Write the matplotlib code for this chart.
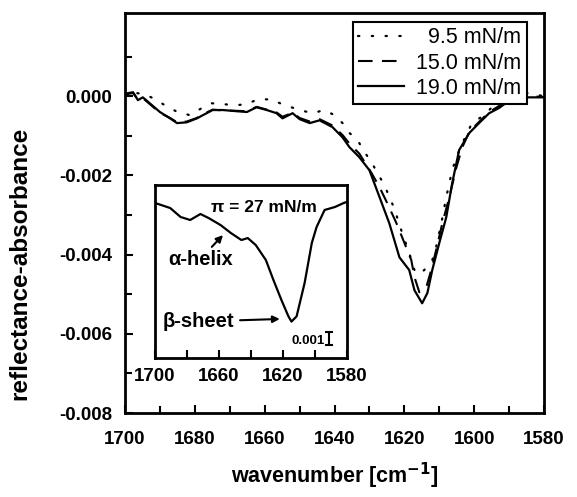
"""
Reflection-absorption IR spectra of the amide I region at three
surface pressures, with an inset spectrum recorded at 27 mN/m.
"""

import matplotlib
matplotlib.use("Agg")
import matplotlib.pyplot as plt
import numpy as np
from matplotlib.ticker import MultipleLocator, FixedLocator

# ---- data (absorbance values in units of 1e-3) ----
wn_solid = [1700, 1699.5, 1697.7, 1696.3, 1694.9, 1692.9, 1690, 1687.1, 1685.1,
            1682.3, 1679.4, 1677.7, 1674.9, 1672, 1668, 1665.1, 1662.3, 1659.4,
            1656.6, 1654.9, 1652, 1650, 1647.1, 1644.3, 1640.6, 1637.7, 1635.7,
            1632.9, 1630, 1627.1, 1624.3, 1621.4, 1618.6, 1617.1, 1614.9, 1613.4,
            1612, 1610, 1608, 1606.3, 1604.3, 1601.4, 1598.6, 1595.7, 1592.9,
            1589, 1585, 1580]
abs_19 = [0.0, 0.07, 0.10, -0.10, -0.03, -0.18, -0.40, -0.56, -0.68, -0.66,
          -0.56, -0.48, -0.35, -0.35, -0.38, -0.40, -0.28, -0.35, -0.43, -0.56,
          -0.43, -0.58, -0.68, -0.61, -0.78, -1.04, -1.29, -1.54, -1.87, -2.55,
          -3.21, -4.07, -4.39, -4.90, -5.23, -4.97, -4.39, -3.71, -3.06, -2.20,
          -1.36, -0.93, -0.68, -0.43, -0.30, -0.05, -0.03, -0.03]

wn_dash = [1700, 1699.5, 1697.7, 1696.3, 1694.9, 1692.9, 1690, 1687.1, 1685.1,
           1682.3, 1679.4, 1677.7, 1674.9, 1672, 1668, 1665.1, 1662.3, 1659.4,
           1656.6, 1654.9, 1652, 1650, 1647.1, 1644.3, 1640.6, 1637.7, 1635.7,
           1632.9, 1629.4, 1627.1, 1624.9, 1622.3, 1620, 1618, 1617.1, 1615.7,
           1613.7, 1612.3, 1610.9, 1609.1, 1607.1, 1605.1, 1603.4, 1601.4,
           1598.6, 1595.7, 1592.9, 1589, 1585, 1580]
abs_15 = [0.0, 0.05, 0.08, -0.08, -0.05, -0.20, -0.42, -0.55, -0.66, -0.64,
          -0.55, -0.46, -0.34, -0.36, -0.37, -0.38, -0.27, -0.34, -0.41, -0.52,
          -0.42, -0.55, -0.64, -0.58, -0.74, -0.98, -1.20, -1.45, -1.94, -2.30,
          -2.70, -3.20, -3.70, -4.14, -4.57, -4.95, -4.82, -4.39, -3.89, -3.20,
          -2.55, -1.80, -1.29, -0.90, -0.65, -0.40, -0.25, -0.03, 0.0, -0.02]

wn_dot = [1700, 1698.6, 1694.3, 1690.9, 1687.7, 1684.9, 1681.4, 1678, 1675.1,
          1672, 1668.3, 1665.1, 1662, 1658, 1655.1, 1650, 1646.3, 1642.9, 1640,
          1637.7, 1635.7, 1633.4, 1631.4, 1629.4, 1627.7, 1625.7, 1622.9, 1620.6,
          1618.6, 1617.1, 1615.7, 1614.3, 1612, 1610.9, 1609.4, 1608, 1606.3,
          1605.1, 1602.3, 1600.6, 1598, 1595.1, 1592.9, 1589, 1585, 1580]
abs_9_5 = [0.0, 0.10, 0.05, -0.10, -0.28, -0.40, -0.48, -0.30, -0.18, -0.20,
           -0.23, -0.20, -0.08, -0.08, -0.20, -0.35, -0.43, -0.35, -0.48, -0.68,
           -0.93, -1.11, -1.41, -1.67, -1.94, -2.25, -2.83, -3.46, -3.96, -4.39,
           -4.50, -4.39, -4.14, -3.81, -3.21, -2.55, -1.87, -1.54, -0.98, -0.68,
           -0.53, -0.30, -0.10, 0.0, 0.08, 0.0]

wn_inset = [1700, 1690.5, 1684, 1678, 1671.6, 1666.5, 1659, 1652.6, 1646, 1642,
            1637, 1630.7, 1626, 1621, 1616.6, 1614.7, 1611.5, 1606.5, 1602,
            1599, 1594, 1587.5, 1582, 1580]
abs_27 = [-0.18, -0.57, -1.26, -1.49, -1.03, -1.34, -1.88, -2.49, -3.03, -2.88,
          -3.42, -4.57, -6.10, -7.64, -8.90, -9.30, -8.90, -6.34, -3.26, -2.03,
          -0.72, -0.49, -0.18, -0.10]

labels = ['  9.5 mN/m', '15.0 mN/m', '19.0 mN/m']
main_xticks = [1700, 1680, 1660, 1640, 1620, 1600, 1580]
main_yticks = [-0.008, -0.006, -0.004, -0.002, 0.0]
main_yminor = [-0.007, -0.005, -0.003, -0.001, 0.001]
inset_ticks = [1700, 1680, 1660, 1640, 1620, 1600, 1580]
inset_ticklabels = ['1700', '', '1660', '', '1620', '', '1580']

plt.rcParams['font.family'] = ['Liberation Sans', 'DejaVu Sans']
plt.rcParams['font.weight'] = 'bold'

W, H = 577, 497
fig = plt.figure(figsize=(W / 100, H / 100), dpi=100)

# main axes
ax = fig.add_axes([125 / W, 1 - 413 / H, (544 - 125) / W, 400 / H])
scale = 1e-3
ax.plot(wn_dot, np.array(abs_9_5) * scale, color='black', lw=1.6,
        linestyle=(0, (0.6, 5.6)), dash_capstyle='round', label=labels[0])
ax.plot(wn_dash, np.array(abs_15) * scale, color='black', lw=1.5,
        linestyle=(0, (7, 4.5)), label=labels[1])
ax.plot(wn_solid, np.array(abs_19) * scale, color='black', lw=1.6,
        label=labels[2])

ax.set_xlim(1700, 1580)
ax.set_ylim(-0.008, 0.0021)
ax.xaxis.set_major_locator(FixedLocator(main_xticks))
ax.xaxis.set_minor_locator(MultipleLocator(10))
ax.yaxis.set_major_locator(FixedLocator(main_yticks))
ax.yaxis.set_minor_locator(FixedLocator(main_yminor))
ax.yaxis.set_major_formatter(plt.FuncFormatter(lambda v, p: f'{v:.3f}'))
ax.tick_params(which='both', direction='in', top=False, right=False,
               width=1.5, labelsize=13.5)
ax.tick_params(axis='x', pad=13)
ax.tick_params(axis='y', pad=9)
ax.tick_params(which='major', length=6)
ax.tick_params(which='minor', length=5)
for s in ax.spines.values():
    s.set_linewidth(2)

ax.set_xlabel('wavenumber [cm$^{\\mathbf{-1}}$]', fontsize=15.5,
              fontweight='bold')
ax.xaxis.set_label_coords(0.5, -(483 - 413) / 400, transform=ax.transAxes)
ax.xaxis.label.set_va('baseline')
ax.set_ylabel('reflectance-absorbance', fontsize=17.5, fontweight='bold')
ax.yaxis.set_label_coords((31 - 125) / 419, (413 - 263) / 400)

leg = ax.legend(loc='upper right', bbox_to_anchor=(527 / W, 1 - 22 / H),
                bbox_transform=fig.transFigure, borderaxespad=0,
                fancybox=False, framealpha=1, edgecolor='black',
                prop={'family': 'Liberation Sans', 'weight': 'normal',
                      'size': 15.5},
                handlelength=2.1, handletextpad=0.6, labelspacing=0.2,
                borderpad=0.25)
leg.get_frame().set_linewidth(1.5)

# inset
ins = fig.add_axes([155 / W, 1 - 358 / H, 192 / W, 173 / H])
ins.plot(wn_inset, np.array(abs_27) * scale, color='black', lw=1.6)
ins.set_xlim(1700, 1580)
ins.set_ylim(-0.0121, 0.0012)
ins.xaxis.set_major_locator(FixedLocator(inset_ticks))
ins.set_xticklabels(inset_ticklabels)
ins.set_yticks([])
ins.tick_params(axis='x', direction='in', length=6, width=1.5,
                labelsize=13.5, pad=7)
for s in ins.spines.values():
    s.set_linewidth(2)

ins.text(1632, -0.0005, '\u03c0 = 27 mN/m', fontsize=12.5, fontweight='bold',
         ha='center', va='center')
ins.annotate('\u03b1-helix', xy=(1657.5, -0.00265), xytext=(1692, -0.0045),
             fontsize=14.5, fontweight='bold', ha='left', va='center',
             arrowprops=dict(arrowstyle='-|>', color='black', lw=1.5,
                             shrinkA=0, shrinkB=0, mutation_scale=10))
ins.annotate('\u03b2-sheet', xy=(1622, -0.0091), xytext=(1695, -0.0093),
             fontsize=14.5, fontweight='bold', ha='left', va='center',
             arrowprops=dict(arrowstyle='-|>', color='black', lw=1.5,
                             shrinkA=2, shrinkB=0, mutation_scale=10))

# 0.001 scale bar
ins.errorbar([1591], [-0.0106], yerr=[0.0005], color='black', lw=1.5,
             capsize=3, capthick=1.5)
ins.text(1594, -0.0108, '0.001', fontsize=9.5, fontweight='bold',
         ha='right', va='center')

fig.savefig('out.png', dpi=100)
plt.close(fig)
